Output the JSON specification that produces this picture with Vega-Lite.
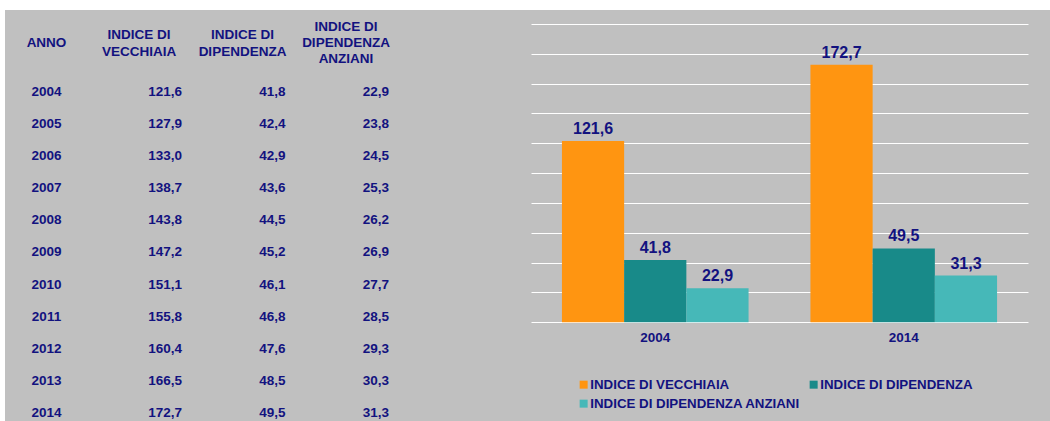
{
  "$schema": "https://vega.github.io/schema/vega-lite/v6.json",
  "background": "white",
  "padding": {"left": 5, "top": 10, "right": 0, "bottom": 0},
  "spacing": 0,
  "config": {
    "view": {"fill": "#c0c0c0", "stroke": null},
    "font": "Liberation Sans",
    "locale": {"number": {"decimal": ",", "thousands": ".", "grouping": [3], "currency": ["", " €"]}}
  },
  "datasets": {
    "indici": [
      {"anno": 2004, "vecchiaia": 121.6, "dipendenza": 41.8, "anziani": 22.9},
      {"anno": 2005, "vecchiaia": 127.9, "dipendenza": 42.4, "anziani": 23.8},
      {"anno": 2006, "vecchiaia": 133.0, "dipendenza": 42.9, "anziani": 24.5},
      {"anno": 2007, "vecchiaia": 138.7, "dipendenza": 43.6, "anziani": 25.3},
      {"anno": 2008, "vecchiaia": 143.8, "dipendenza": 44.5, "anziani": 26.2},
      {"anno": 2009, "vecchiaia": 147.2, "dipendenza": 45.2, "anziani": 26.9},
      {"anno": 2010, "vecchiaia": 151.1, "dipendenza": 46.1, "anziani": 27.7},
      {"anno": 2011, "vecchiaia": 155.8, "dipendenza": 46.8, "anziani": 28.5},
      {"anno": 2012, "vecchiaia": 160.4, "dipendenza": 47.6, "anziani": 29.3},
      {"anno": 2013, "vecchiaia": 166.5, "dipendenza": 48.5, "anziani": 30.3},
      {"anno": 2014, "vecchiaia": 172.7, "dipendenza": 49.5, "anziani": 31.3}
    ]
  },
  "hconcat": [
    {
      "width": 526,
      "height": 411,
      "layer": [
        {
          "data": {"name": "indici"},
          "transform": [{"fold": ["vecchiaia", "dipendenza", "anziani"], "as": ["indice", "valore"]}],
          "mark": {"type": "text", "align": "right", "dx": 43, "fontSize": 13.5, "fontWeight": "bold", "color": "#12127f"},
          "encoding": {
            "x": {"field": "indice", "type": "nominal", "scale": {"type": "point", "domain": ["anno", "vecchiaia", "dipendenza", "anziani"], "range": [30.5, 341], "padding": 0}, "axis": null},
            "y": {"field": "anno", "type": "quantitative", "scale": {"domain": [2001.46, 2014.24], "reverse": true, "nice": false, "zero": false}, "axis": null},
            "text": {"field": "valore", "type": "quantitative", "format": ".1f"}
          }
        },
        {
          "data": {"name": "indici"},
          "mark": {"type": "text", "align": "center", "dx": 11, "fontSize": 13.5, "fontWeight": "bold", "color": "#12127f"},
          "encoding": {
            "x": {"datum": "anno", "type": "nominal"},
            "y": {"field": "anno", "type": "quantitative"},
            "text": {"field": "anno", "type": "nominal"}
          }
        },
        {
          "data": {"values": [
            {"col": "vecchiaia", "intestazione": "INDICE DI\nVECCHIAIA"},
            {"col": "dipendenza", "intestazione": "INDICE DI\nDIPENDENZA"}
          ]},
          "mark": {"type": "text", "align": "center", "dy": -8.5, "lineBreak": "\n", "lineHeight": 17, "fontSize": 13.5, "fontWeight": "bold", "color": "#12127f"},
          "encoding": {
            "x": {"field": "col", "type": "nominal"},
            "y": {"datum": 2002.5, "type": "quantitative"},
            "text": {"field": "intestazione", "type": "nominal"}
          }
        },
        {
          "data": {"values": [
            {"col": "anziani", "intestazione": "INDICE DI\nDIPENDENZA\nANZIANI"}
          ]},
          "mark": {"type": "text", "align": "center", "dy": -16, "lineBreak": "\n", "lineHeight": 16, "fontSize": 13.5, "fontWeight": "bold", "color": "#12127f"},
          "encoding": {
            "x": {"field": "col", "type": "nominal"},
            "y": {"datum": 2002.5, "type": "quantitative"},
            "text": {"field": "intestazione", "type": "nominal"}
          }
        },
        {
          "data": {"values": [{"col": "anno", "intestazione": "ANNO"}]},
          "mark": {"type": "text", "align": "center", "dx": 11, "fontSize": 13.5, "fontWeight": "bold", "color": "#12127f"},
          "encoding": {
            "x": {"field": "col", "type": "nominal"},
            "y": {"datum": 2002.5, "type": "quantitative"},
            "text": {"field": "intestazione", "type": "nominal"}
          }
        }
      ]
    },
    {
      "width": 519,
      "height": 411,
      "data": {"name": "indici"},
      "transform": [
        {"filter": {"field": "anno", "oneOf": [2004, 2014]}},
        {"fold": ["vecchiaia", "dipendenza", "anziani"], "as": ["indice", "valore"]}
      ],
      "encoding": {
        "x": {
          "field": "anno", "type": "nominal",
          "scale": {"range": [0, 497], "paddingInner": 0.249, "paddingOuter": 0.1245},
          "axis": {"orient": "bottom", "offset": -98.7, "domain": false, "ticks": false, "grid": false, "labelAngle": 0, "labelPadding": 8, "labelFontSize": 13.5, "labelFontWeight": "bold", "labelColor": "#12127f", "labelFont": "Liberation Sans", "title": null}
        },
        "xOffset": {"field": "indice", "type": "nominal", "scale": {"domain": ["vecchiaia", "dipendenza", "anziani"], "paddingInner": 0, "paddingOuter": 0}},
        "y": {
          "field": "valore", "type": "quantitative",
          "scale": {"domain": [-66.18, 209.39], "nice": false, "zero": false},
          "axis": {"values": [0, 20, 40, 60, 80, 100, 120, 140, 160, 180, 200], "grid": true, "gridColor": "#ffffff", "gridWidth": 1, "gridOpacity": 1, "labels": false, "ticks": false, "domain": false, "title": null}
        }
      },
      "layer": [
        {
          "mark": {"type": "bar"},
          "encoding": {
            "y2": {"datum": 0},
            "color": {
              "field": "indice", "type": "nominal",
              "scale": {"domain": ["vecchiaia", "dipendenza", "anziani"], "range": ["#ff9511", "#188a89", "#46b8b8"]},
              "legend": {
                "orient": "none", "legendX": 572, "legendY": 368, "direction": "horizontal", "columns": 2, "columnPadding": 6, "rowPadding": 5, "padding": 0,
                "symbolType": "square", "symbolSize": 64, "symbolStrokeWidth": 0, "symbolOpacity": 1, "labelOffset": 0,
                "labelFont": "Liberation Sans", "labelFontSize": 13.3, "labelFontWeight": "bold", "labelColor": "#12127f", "labelLimit": 400, "title": null,
                "labelExpr": "datum.value == 'vecchiaia' ? 'INDICE DI VECCHIAIA' : datum.value == 'dipendenza' ? 'INDICE DI DIPENDENZA' : 'INDICE DI DIPENDENZA ANZIANI'"
              }
            }
          }
        },
        {
          "mark": {"type": "text", "baseline": "alphabetic", "dy": -7, "fontSize": 16, "fontWeight": "bold", "color": "#12127f"},
          "encoding": {
            "text": {"field": "valore", "type": "quantitative", "format": ".1f"}
          }
        }
      ]
    }
  ]
}
